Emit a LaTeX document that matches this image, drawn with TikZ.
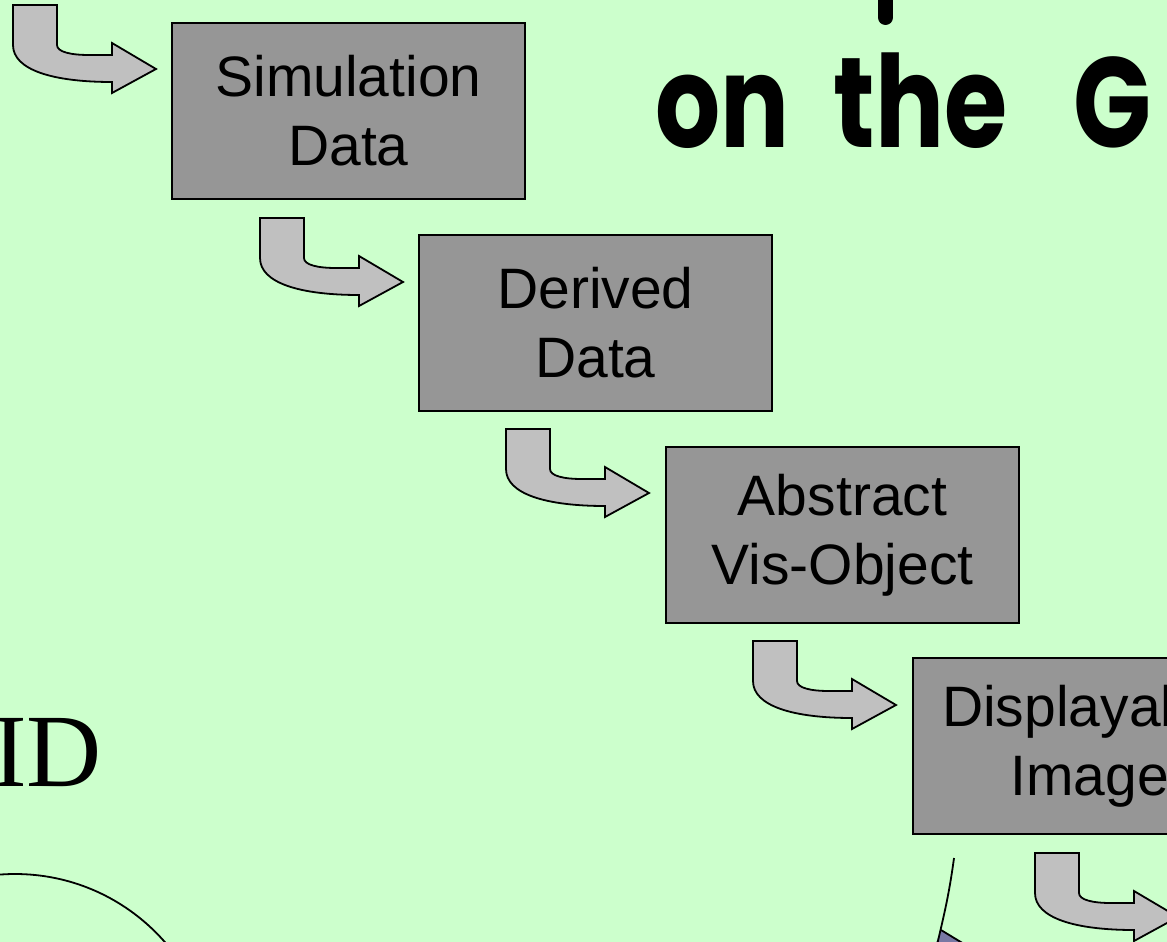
\documentclass[tikz,border=0pt]{standalone}
\usepackage{fontspec}
\newfontfamily\boxfont{Liberation Sans}
\newfontfamily\idfont{Liberation Serif}
\newfontfamily\titlefont{Poppins}
\usetikzlibrary{calc}
\definecolor{slidebg}{RGB}{204,255,204}
\definecolor{stagefill}{RGB}{150,150,150}
\definecolor{arrowfill}{RGB}{192,192,192}
\definecolor{wedgefill}{RGB}{120,120,164}
\tikzset{
  stage/.style={draw=black, line width=2pt, fill=stagefill, rectangle,
    minimum width=353pt, minimum height=176pt, inner sep=0pt, align=center,
    font=\boxfont\fontsize{57}{69}\selectfont},
  outline/.style={draw=black, line width=1.8pt},
  bentarrow/.pic={
    \draw[outline, fill=arrowfill, line join=miter]
      (0,0) -- (44,0) -- (44,40)
      .. controls (44,47) and (58,50) .. (76,50) -- (99,50)
      -- (99,38) -- (143,64) -- (99,88) -- (99,77)
      .. controls (40,77) and (0,65) .. (0,40) -- cycle;
  }
}
\begin{document}
\begin{tikzpicture}[x=1pt,y=-1pt]
  \useasboundingbox (0,0) rectangle (1167,942);
  \clip (0,0) rectangle (1167,942);
  \fill[slidebg] (0,0) rectangle (1167,942);

  % heading, set narrow with wide word gaps
  \node[anchor=base west, inner sep=0pt, xscale=0.8, transform shape,
        font=\titlefont\bfseries\fontsize{128}{128}\selectfont] (title) at (655,147)
        {on\hspace{28pt} the\hspace{56pt} G};
  \draw[line width=15pt, line cap=round] (885.5,-20) -- (885.5,17.5);

  % pipeline stages
  \node[stage] (sim) at (348.5,111) {Simulation\\Data};
  \node[stage] (derived) at (595.5,323) {Derived\\Data};
  \node[stage] (abstract) at (842.5,535) {Abstract\\Vis-Object};
  \node[stage] (display) at (1089.5,746) {Displayable\\Image};

  % bent arrows leading into each stage
  \pic at (13,5) {bentarrow};
  \pic at ($(sim.south west)+(89,18)$) {bentarrow};
  \pic at ($(derived.south west)+(88,17)$) {bentarrow};
  \pic at ($(abstract.south west)+(88,17)$) {bentarrow};
  \pic at ($(display.south west)+(123,18)$) {bentarrow};

  % left side label and circle
  \node[anchor=base east, inner sep=0pt,
        font=\idfont\fontsize{104}{104}\selectfont] (grid) at (102,786) {ID};
  \draw[outline] (15,1073) circle[radius=199pt];

  % lower right arc and wedge
  \fill[wedgefill] (941,930) -- (964,943) -- (936,943) -- cycle;
  \draw[outline] (954,858) .. controls (949,895) and (944,915) .. (937,945);
  \draw[outline] (941,930) -- (964,944);
\end{tikzpicture}
\end{document}
